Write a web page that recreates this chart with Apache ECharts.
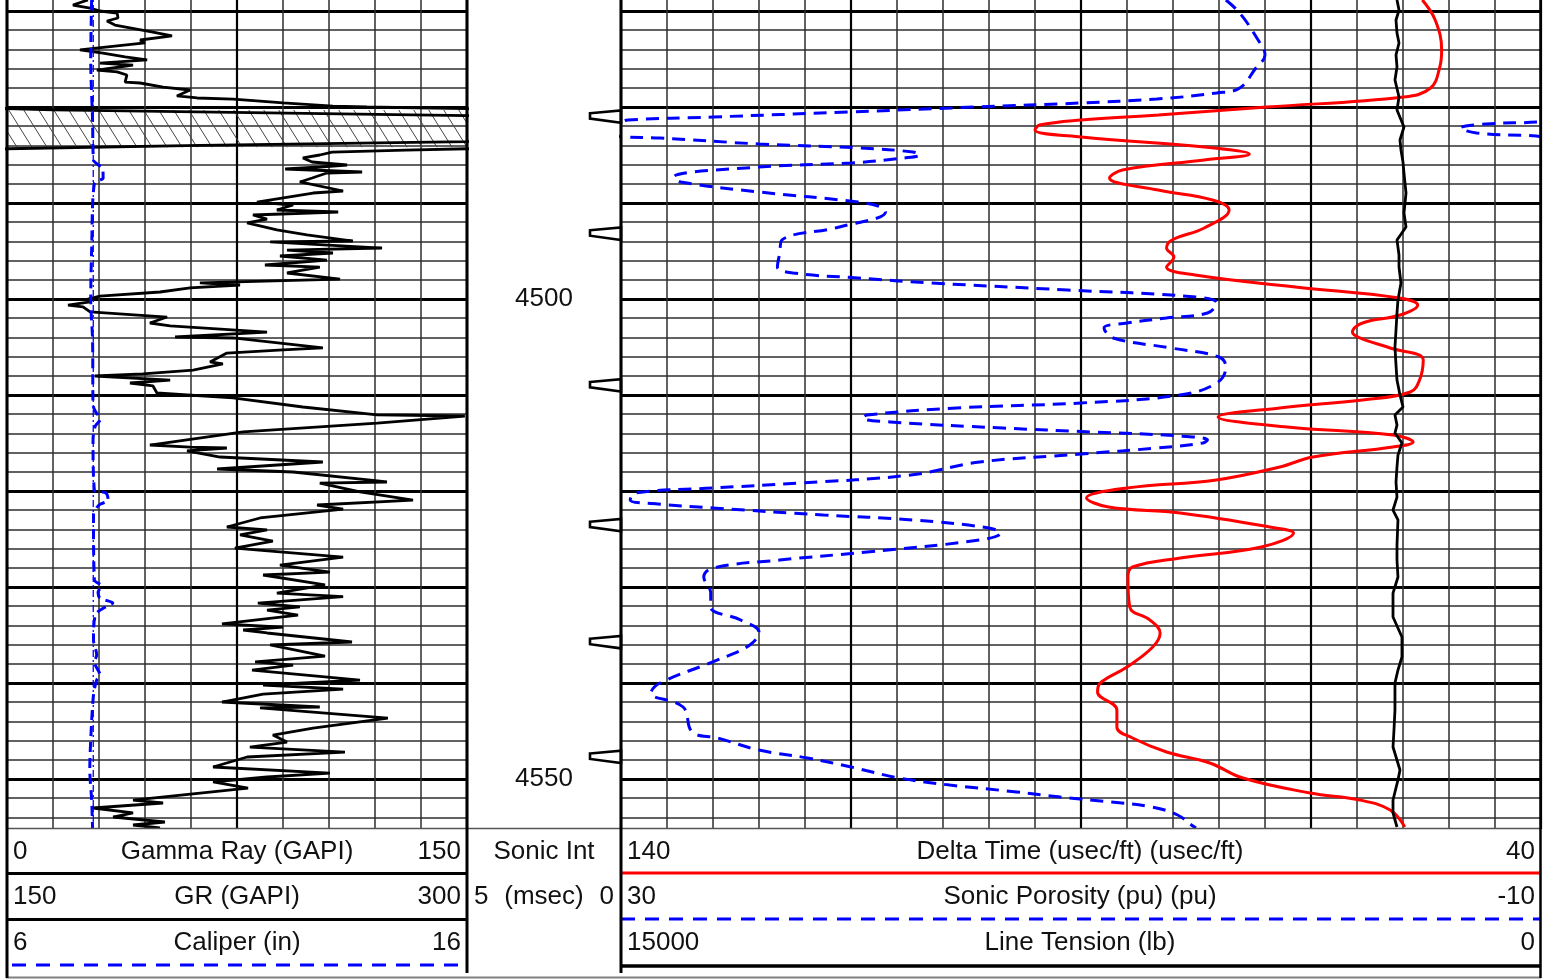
<!DOCTYPE html>
<html>
<head>
<meta charset="utf-8">
<title>Sonic log 4470-4555</title>
<script src="https://cdn.jsdelivr.net/npm/echarts@6.0.0/dist/echarts.min.js"></script>
<style>
html,body{margin:0;padding:0;background:#fff;}
#main{width:1554px;height:980px;}
</style>
</head>
<body>
<div id="main"></div>
<script>
//曲线数据 [深度ft, 值]
var grLog = [
	[4468.85,26.4],[4469.38,21.5],[4469.69,27.1],[4470.0,30.3],[4470.21,35.9],[4470.73,36.2],[4471.04,32.6],[4471.46,35.2],
	[4472.19,47.6],[4472.6,53.8],[4473.02,43.4],[4473.33,45.0],[4474.06,23.8],[4474.38,31.3],[4474.79,38.5],[4475.1,45.7],
	[4475.42,30.3],[4475.63,41.1],[4476.15,29.3],[4476.35,35.9],[4476.67,39.1],[4477.4,38.5],[4477.5,43.4],[4477.92,50.9],
	[4478.23,59.7],[4478.85,55.4],[4479.06,62.0],[4479.17,73.7],[4479.38,82.5],[4479.58,90.0],[4479.9,106.3],[4480.0,117.4],
	[4480.16,150],[4480.3,165],[4480.9,300],[4481.2,330],[4483.3,330],[4483.6,300],[4484.0,213],[4484.35,150],[4484.5,130],
	[4484.7,106],[4485.0,102],[4485.31,96.5],[4485.73,99.5],[4486.04,110.9],[4486.25,102],[4486.46,90.7],[4486.77,115.8],
	[4486.88,104.3],[4487.4,99.5],[4487.81,95.5],[4488.75,109.6],[4488.96,99.8],[4489.9,81.5],[4490.21,93.3],[4490.73,88.0],
	[4490.94,108.0],[4491.25,80.2],[4491.67,84.8],[4492.08,78.3],[4492.81,88.0],[4493.33,97.8],[4493.96,112.8],[4494.06,85.8],
	[4494.69,122.3],[4494.9,91.3],[4495.21,106.3],[4495.52,89.0],[4495.94,104.3],[4496.46,84.1],[4496.67,102],[4497.29,91.3],
	[4497.92,108.6],[4498.33,62.9],[4498.54,76],[4498.85,59.7],[4499.27,49.9],[4499.69,30.3],[4500.0,26.4],[4500.31,27.1],
	[4500.63,19.9],[4500.83,24.8],[4501.35,27.1],[4501.88,52.2],[4502.5,46.6],[4502.81,53.2],[4503.44,84.8],[4503.96,54.8],
	[4504.06,73.7],[4504.69,92],[4505.1,103],[4505.3,90],[4505.63,71.7],[4506.56,66.2],[4506.77,70.4],[4507.4,60.7],
	[4507.81,44.3],[4508.02,28.7],[4508.44,53.2],[4508.75,40.1],[4509.06,47.6],[4509.79,48.9],[4510.31,73.7],[4511.25,96.5],
	[4512.08,120.7],[4512.19,149.3],[4512.92,120.7],[4513.85,77],[4515.21,46.6],[4515.42,59.7],[4515.52,71.7],[4515.83,58.7],
	[4516.46,69.5],[4516.98,103],[4517.71,68.5],[4518.02,93.3],[4519.06,123.9],[4519.17,102],[4520.1,115.1],[4520.94,132.4],
	[4521.46,101.1],[4521.88,109.6],[4522.81,82.5],[4523.75,71.7],[4524.06,84.8],[4524.58,76],[4525.21,86.7],[4525.94,74.3],
	[4526.88,109.6],[4527.71,89],[4528.44,105.3],[4528.75,83.5],[4529.79,103.7],[4530.63,88],[4531.0,109.6],[4531.67,81.8],
	[4532.08,95.5],[4532.4,84.8],[4532.92,94.9],[4533.85,70.1],[4534.17,90],[4534.48,77],[4534.79,84.8],[4535.73,112.5],
	[4536.04,85.8],[4537.19,103.7],[4537.81,80.9],[4538.13,93.3],[4538.65,79.9],[4539.69,115.1],[4540.21,83.5],[4540.63,109.6],
	[4541.15,83.5],[4541.98,70.1],[4542.5,102],[4542.6,82.5],[4543.65,124.2],[4544.69,99.8],[4545.42,86.7],[4546.15,91.3],
	[4546.67,79.2],[4547.19,110.2],[4547.71,78.3],[4548.75,67.2],[4549.38,105.3],[4549.79,84.8],[4550.31,67.2],[4550.94,78.6],
	[4552.19,41.1],[4552.5,50.9],[4553.02,28],[4553.54,41.1],[4553.96,34.6],[4554.48,51.5],[4554.79,41.1],[4555.1,49.9]
];
var caliperLog = [
	[4468.85,7.84],[4475.1,7.82],[4481.35,7.86],[4485.52,7.88],[4486.46,8.08],[4487.4,8.09],[4487.92,7.9],[4494.9,7.84],
	[4500.1,7.82],[4504.27,7.86],[4511.04,7.87],[4511.77,7.93],[4512.5,8.03],[4513.23,7.92],[4514.69,7.87],[4519.9,7.9],
	[4520.21,8.15],[4520.94,8.2],[4521.46,8.0],[4522.5,7.88],[4529.27,7.9],[4529.9,8.06],[4530.52,7.98],[4531.15,8.02],
	[4531.67,8.3],[4532.19,8.1],[4532.92,7.92],[4535.52,7.88],[4537.08,7.95],[4537.81,7.9],[4539.17,8.02],[4539.69,7.95],
	[4541.25,7.88],[4545.94,7.82],[4549.06,7.8],[4552.19,7.84],[4555.1,7.86]
];
var bitSize = 7.875;
var dtLog = [
	[4468.85,52.9],[4470.94,51.5],[4474.06,50.8],[4475.83,51.0],[4478.02,52.0],[4478.96,54.9],[4480.0,69.8],[4480.83,81.6],
	[4481.35,90.0],[4481.88,94.5],[4482.4,95.0],[4483.13,90.0],[4484.17,76.6],[4484.9,71.7],[4485.52,76.6],[4486.56,85.5],
	[4487.4,86.9],[4488.65,81.6],[4489.69,75.7],[4490.73,73.9],[4492.6,76.6],[4493.85,80.1],[4494.69,80.7],[4495.63,79.9],
	[4496.67,80.7],[4497.5,77.6],[4498.75,66.7],[4499.9,55.4],[4500.63,53.4],[4501.67,55.3],[4502.5,59.4],[4503.44,60.5],
	[4504.06,59.7],[4505.1,56.4],[4506.35,52.8],[4508.44,53.2],[4509.69,54.2],[4510.52,59.4],[4511.35,68.4],[4512.29,75.1],
	[4513.33,67.6],[4514.17,56.1],[4514.9,53.9],[4515.42,56.1],[4516.46,64.8],[4517.5,68.4],[4518.85,75.3],[4519.69,85.0],
	[4520.73,89.4],[4521.67,87.0],[4522.29,79.2],[4523.75,69.5],[4524.38,66.9],[4525.83,70.4],[4526.98,79.2],[4527.92,84.4],
	[4528.96,84.9],[4532.08,84.7],[4533.44,82.5],[4534.79,81.4],[4536.25,82.2],[4538.33,85.0],[4540.0,87.9],[4540.94,88.2],
	[4542.81,86.1],[4544.58,86.1],[4545.73,84.4],[4547.19,80.7],[4548.33,76.0],[4549.9,72.4],[4551.46,65.1],[4552.19,59.7],
	[4553.23,56.4],[4555.0,54.8]
];
var phiLog = [
	[4468.85,3.7],[4470.21,3.1],[4473.02,2.3],[4474.58,2.0],[4475.94,2.4],[4478.02,3.1],[4478.54,4.1],[4479.17,6.7],
	[4479.58,10.0],[4480.0,14.6],[4480.52,20.1],[4481.04,26.0],[4481.35,29.7],[4481.56,30.1],[4481.77,32.4],[4482.19,33.5],
	[4482.71,32.8],[4483.02,30.2],[4483.13,29.9],[4483.23,28.3],[4483.85,24.0],[4484.27,19.6],[4484.69,17.3],[4485.0,17.0],
	[4485.31,17.7],[4485.83,20.0],[4486.25,24.0],[4487.29,27.7],[4487.81,27.4],[4488.85,24.0],[4489.9,19.7],[4490.42,18.7],
	[4490.94,18.5],[4492.5,20.5],[4493.85,23.0],[4495.21,23.1],[4496.67,23.2],[4497.29,22.5],[4497.81,19.7],[4498.33,16.5],
	[4499.06,10.6],[4499.79,5.0],[4500.42,4.1],[4501.46,4.5],[4501.98,6.3],[4502.5,8.0],[4503.02,9.0],[4504.06,8.6],
	[4505.1,6.1],[4506.04,4.0],[4507.08,3.7],[4508.75,4.1],[4510.0,5.7],[4510.83,10.0],[4511.35,15.4],[4512.08,19.3],
	[4512.4,19.5],[4512.81,18.3],[4513.44,13.4],[4513.85,9.6],[4514.27,5.7],[4514.69,4.5],[4515.0,4.7],[4515.52,6.7],
	[4516.15,10.0],[4516.98,14.4],[4518.33,17.4],[4519.17,22.2],[4519.69,26.0],[4520.21,29.4],[4520.94,29.6],[4521.35,28.4],
	[4521.77,26.0],[4522.5,21.2],[4523.02,17.3],[4523.85,14.0],[4524.38,13.5],[4525.1,14.4],[4526.35,19.3],[4527.19,23.1],
	[4528.02,26.0],[4528.96,26.4],[4530.63,26.1],[4532.08,26.1],[4533.44,24.8],[4534.69,24.0],[4536.04,24.4],[4537.6,25.8],
	[4540.0,28.3],[4541.04,28.7],[4542.5,27.3],[4545.1,26.9],[4545.73,25.8],[4546.98,24.0],[4547.81,21.9],[4548.75,20.0],
	[4549.9,17.9],[4550.63,15.7],[4551.35,12.8],[4551.88,10.9],[4552.4,8.7],[4552.92,6.9],[4553.75,5.8],[4554.79,5.2],[4555.1,5.0]
];
var tensionLog = [
	[4468.85,2348],[4469.9,2315],[4470.94,2364],[4472.29,2348],[4473.33,2315],[4474.58,2364],[4475.83,2348],[4477.19,2381],
	[4478.96,2315],[4480.31,2348],[4482.08,2234],[4483.44,2299],[4484.48,2283],[4485.73,2250],[4486.88,2234],[4488.96,2201],
	[4491.04,2234],[4492.5,2201],[4493.85,2348],[4495.42,2315],[4496.67,2315],[4498.33,2283],[4500.1,2332],[4501.46,2348],
	[4503.23,2364],[4505.0,2381],[4506.88,2364],[4508.44,2348],[4510.0,2299],[4511.25,2250],[4512.08,2381],[4513.13,2348],
	[4513.96,2381],[4515.0,2267],[4516.25,2332],[4517.5,2348],[4519.06,2364],[4520.63,2348],[4521.98,2413],[4523.02,2332],
	[4525.63,2348],[4527.19,2348],[4528.96,2332],[4530.63,2413],[4533.13,2413],[4535.21,2267],[4537.29,2267],[4538.65,2332],
	[4540.0,2381],[4542.81,2381],[4544.9,2397],[4546.67,2413],[4549.06,2299],[4550.1,2332],[4552.19,2413],[4553.54,2413],[4555.0,2348]
];
//GR超过300的阴影区 [顶, 底]
var hatchZone = [[4480.3, 4484.2]];
//声波积分时间标记(每1ms)
var sonicTicks = [4481.0, 4493.2, 4509.0, 4523.55, 4535.75, 4547.7];
var depthLabels = [4500, 4550];

var FONT = '26px "Liberation Sans", Arial, sans-serif';
var BLUE = '#0000ff';

//转成 [x值, 深度]
function toXY(log) {
	var out = [];
	for (var i = 0; i < log.length; i++) {
		out.push([log[i][1], log[i][0]]);
	}
	return out;
}

//阴影填充
var hatchCanvas = document.createElement('canvas');
hatchCanvas.width = 15;
hatchCanvas.height = 24;
var hctx = hatchCanvas.getContext('2d');
hctx.strokeStyle = '#444';
hctx.lineWidth = 1;
for (var k = -1; k <= 1; k++) {
	hctx.beginPath();
	hctx.moveTo(k * 15, 0);
	hctx.lineTo(k * 15 + 15, 24);
	hctx.stroke();
}

var thinLine = {color: '#2e2e2e', width: 1.5};
var heavyLine = {color: '#000', width: 2.8};

function gridAxis(gridIndex, n, style) {
	return {
		gridIndex: gridIndex, type: 'value', min: 0, max: n, interval: 1,
		axisLine: {show: false}, axisTick: {show: false}, axisLabel: {show: false},
		splitLine: {show: true, lineStyle: style}
	};
}
function depthAxis(gridIndex, interval, style) {
	return {
		gridIndex: gridIndex, type: 'value', min: 4460, max: 4560, inverse: true, interval: interval,
		axisLine: {show: false}, axisTick: {show: false}, axisLabel: {show: false},
		splitLine: {show: true, lineStyle: style}
	};
}
function hidden(gridIndex, min, max, inverse) {
	return {gridIndex: gridIndex, type: 'value', min: min, max: max, inverse: !!inverse, show: false};
}

function line(x1, y1, x2, y2, color, w, dash) {
	return {type: 'line', z: 120, shape: {x1: x1, y1: y1, x2: x2, y2: y2},
		style: {stroke: color, lineWidth: w, lineDash: dash || null}};
}
function text(x, y, s, align) {
	return {type: 'text', z: 130, x: x, y: y,
		style: {text: s, fill: '#111', font: FONT, textAlign: align, textVerticalAlign: 'middle', align: align, verticalAlign: 'middle'}};
}

//表头
var header = [
	{type: 'rect', z: 100, shape: {x: 0, y: 829, width: 1554, height: 151}, style: {fill: '#fff'}},
	line(7, 828.5, 1541, 828.5, '#555', 1.5),
	line(7, 873.5, 467, 873.5, '#000', 3),
	line(7, 919.5, 467, 919.5, '#000', 3),
	line(12, 965, 467, 965, BLUE, 3, [14, 10]),
	line(621, 873, 1541, 873, '#ff0000', 3),
	line(621, 919, 1541, 919, BLUE, 3, [14, 10]),
	line(621, 966, 1541, 966, '#000', 3.5),
	line(6, 977.5, 1541, 977.5, '#808080', 2),
	line(7, 0, 7, 978, '#000', 3),
	line(467, 0, 467, 973, '#000', 3),
	line(621, 0, 621, 973, '#000', 3),
	line(1540.5, 0, 1540.5, 978, '#000', 2.5),
	text(13, 852, '0', 'left'), text(237, 852, 'Gamma Ray (GAPI)', 'center'), text(461, 852, '150', 'right'),
	text(13, 897, '150', 'left'), text(237, 897, 'GR (GAPI)', 'center'), text(461, 897, '300', 'right'),
	text(13, 943, '6', 'left'), text(237, 943, 'Caliper (in)', 'center'), text(461, 943, '16', 'right'),
	text(544, 852, 'Sonic Int', 'center'),
	text(474, 897, '5', 'left'), text(544, 897, '(msec)', 'center'), text(614, 897, '0', 'right'),
	text(627, 852, '140', 'left'), text(1080, 852, 'Delta Time (usec/ft) (usec/ft)', 'center'), text(1535, 852, '40', 'right'),
	text(627, 897, '30', 'left'), text(1080, 897, 'Sonic Porosity (pu) (pu)', 'center'), text(1535, 897, '-10', 'right'),
	text(627, 943, '15000', 'left'), text(1080, 943, 'Line Tension (lb)', 'center'), text(1535, 943, '0', 'right')
];

var chart = echarts.init(document.getElementById('main'));
var option = {
	animation: false,
	backgroundColor: '#fff',
	textStyle: {fontFamily: '"Liberation Sans", Arial, sans-serif'},
	grid: [
		{left: 7, top: -85, width: 460, height: 960, outerBoundsMode: 'none'},
		{left: 467, top: -85, width: 154, height: 960, outerBoundsMode: 'none'},
		{left: 621, top: -85, width: 920, height: 960, outerBoundsMode: 'none'}
	],
	xAxis: [
		hidden(0, 0, 150),          // 0 GR
		hidden(0, 150, 300),        // 1 GR 回卷
		hidden(0, 6, 16),           // 2 井径
		gridAxis(0, 10, thinLine),  // 3
		gridAxis(0, 2, {color: '#000', width: 2.2}), // 4
		hidden(1, 0, 1),            // 5 深度道
		hidden(2, 40, 140, true),   // 6 DT
		hidden(2, -10, 30, true),   // 7 孔隙度
		hidden(2, 30, 70, true),    // 8 孔隙度回卷
		hidden(2, 0, 15000, true),  // 9 张力
		gridAxis(2, 20, thinLine),  // 10
		gridAxis(2, 4, {color: '#000', width: 2.2}) // 11
	],
	yAxis: [
		depthAxis(0, 2, thinLine),
		depthAxis(0, 10, heavyLine),
		hidden(1, 4460, 4560, true),
		depthAxis(2, 2, thinLine),
		depthAxis(2, 10, heavyLine)
	],
	graphic: header,
	series: [
		{
			type: 'custom', xAxisIndex: 0, yAxisIndex: 0, z: 1, silent: true,
			data: hatchZone,
			renderItem: function(params, api) {
				var p1 = api.coord([0, api.value(0)]);
				var p2 = api.coord([150, api.value(1)]);
				return {type: 'rect', shape: {x: p1[0], y: p1[1], width: p2[0] - p1[0], height: p2[1] - p1[1]},
					style: {fill: {image: hatchCanvas, repeat: 'repeat'}}};
			}
		},
		{type: 'line', xAxisIndex: 0, yAxisIndex: 0, data: toXY(grLog), symbol: 'none', clip: true,
			lineStyle: {color: '#000', width: 2.8}},
		{type: 'line', xAxisIndex: 1, yAxisIndex: 0, data: toXY(grLog), symbol: 'none', clip: true,
			lineStyle: {color: '#000', width: 2.8}},
		{type: 'line', xAxisIndex: 2, yAxisIndex: 0, data: [[bitSize, 4460], [bitSize, 4560]], symbol: 'none',
			lineStyle: {color: BLUE, width: 1.3, type: [7, 3, 2, 3]}},
		{type: 'line', xAxisIndex: 2, yAxisIndex: 0, data: toXY(caliperLog), symbol: 'none', smooth: 0.3,
			lineStyle: {color: BLUE, width: 3, type: [10, 6]}},
		{
			type: 'custom', xAxisIndex: 5, yAxisIndex: 2, silent: true,
			data: sonicTicks.map(function(d) { return [1, d]; }),
			renderItem: function(params, api) {
				var p = api.coord([api.value(0), api.value(1)]);
				var x = p[0], y = p[1];
				return {type: 'polygon',
					shape: {points: [[x - 31, y - 3.4], [x, y - 6.2], [x, y + 6.2], [x - 31, y + 2]]},
					style: {fill: '#fff', stroke: '#000', lineWidth: 2.6}};
			}
		},
		{
			type: 'custom', xAxisIndex: 5, yAxisIndex: 2, silent: true,
			data: depthLabels.map(function(d) { return [0.5, d]; }),
			renderItem: function(params, api) {
				var p = api.coord([api.value(0), api.value(1)]);
				return {type: 'text', x: p[0], y: p[1],
					style: {text: String(api.value(1)), fill: '#111', font: FONT,
						align: 'center', verticalAlign: 'middle', textAlign: 'center', textVerticalAlign: 'middle'}};
			}
		},
		{type: 'line', xAxisIndex: 6, yAxisIndex: 3, data: toXY(dtLog), symbol: 'none', smooth: 0.4, clip: true,
			lineStyle: {color: '#ff0000', width: 3}},
		{type: 'line', xAxisIndex: 7, yAxisIndex: 3, data: toXY(phiLog), symbol: 'none', smooth: 0.4, clip: true,
			lineStyle: {color: BLUE, width: 3, type: [13, 8]}},
		{type: 'line', xAxisIndex: 8, yAxisIndex: 3, data: toXY(phiLog), symbol: 'none', smooth: 0.4, clip: true,
			lineStyle: {color: BLUE, width: 3, type: [13, 8]}},
		{type: 'line', xAxisIndex: 9, yAxisIndex: 3, data: toXY(tensionLog), symbol: 'none', clip: true,
			lineStyle: {color: '#000', width: 2.8}}
	]
};
chart.setOption(option);
</script>
</body>
</html>
